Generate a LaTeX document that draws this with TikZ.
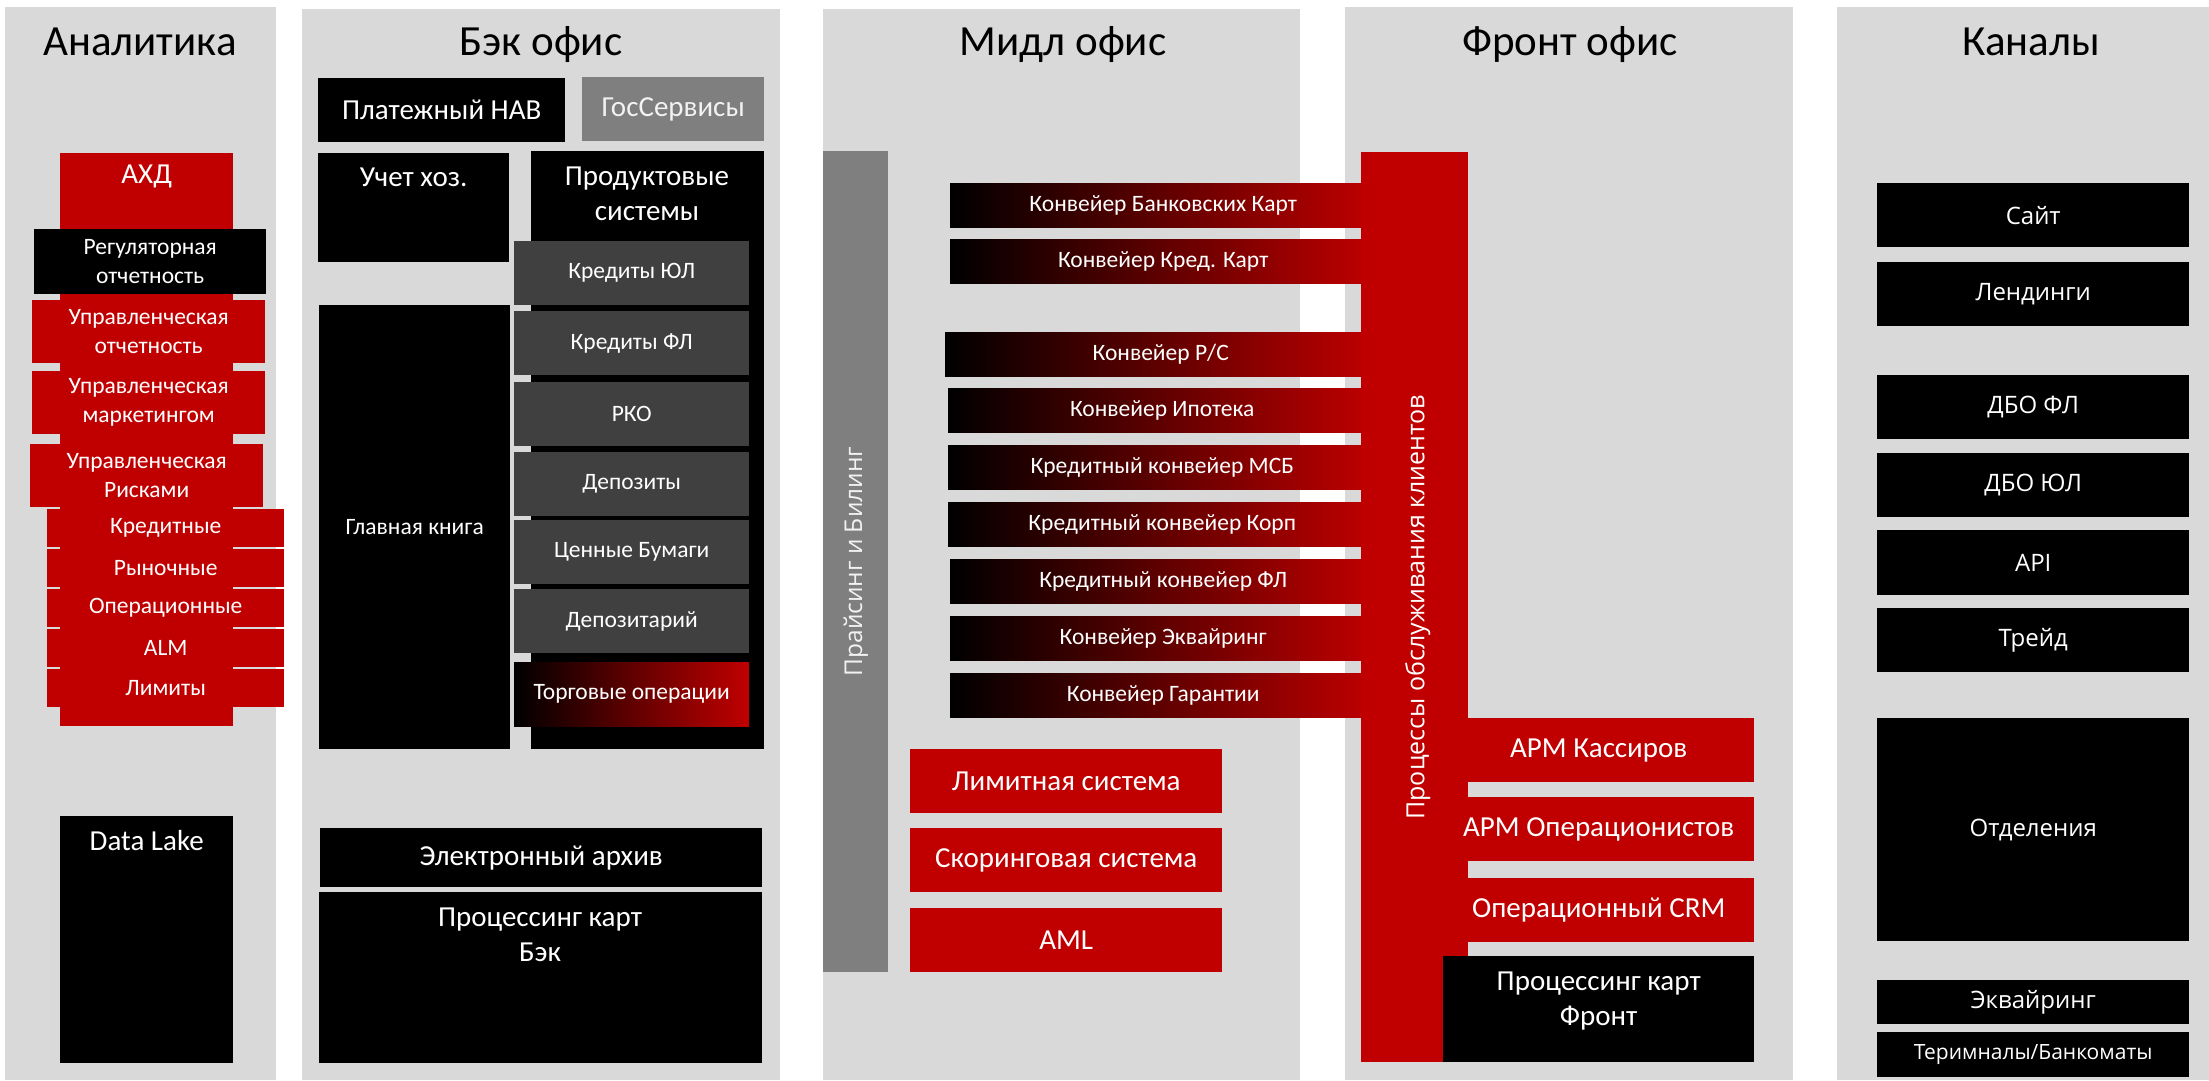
\documentclass[tikz,border=0pt]{standalone}
\usepackage{fontspec}
\setmainfont{Carlito}
\newfontfamily\segoefont{Open Sans}
\usetikzlibrary{positioning}
\definecolor{panelgray}{HTML}{D9D9D9}
\definecolor{bankred}{HTML}{C00000}
\definecolor{prodgray}{HTML}{404040}
\definecolor{bargray}{HTML}{7F7F7F}
\tikzset{
	paneltitle/.style={anchor=base, inner sep=0pt, font=\fontsize{43}{51}\selectfont},
	box/.style={anchor=north west, inner sep=0pt, text=white, align=center},
	blackbox/.style={box, fill=black},
	redbox/.style={box, fill=bankred},
	darkbox/.style={box, fill=prodgray},
	greybox/.style={box, fill=bargray},
	gradbox/.style={box, left color=black, right color=bankred},
	bigtxt/.style={font=\fontsize{29}{35}\selectfont},
	smalltxt/.style={font=\fontsize{23.5}{29}\selectfont},
	chantxt/.style={font=\segoefont\fontsize{24}{30}\selectfont},
	lbl/.style={anchor=base, text=white, inner sep=0pt}
}
\begin{document}
\begin{tikzpicture}[x=1pt, y=-1pt]
	\useasboundingbox (0,0) rectangle (2209,1080);
	\fill[white] (0,0) rectangle (2209,1080);
	% panels
	\fill[panelgray] (5,7) rectangle (276,1080);
	\fill[panelgray] (302,9) rectangle (780,1080);
	\fill[panelgray] (823,9) rectangle (1300,1080);
	\fill[panelgray] (1345,7) rectangle (1793,1080);
	\fill[panelgray] (1837,7) rectangle (2209,1080);
	\node[paneltitle] (tanal) at (140,55) {Аналитика};
	\node[paneltitle] (tback) at (541,55) {Бэк офис};
	\node[paneltitle] (tmid) at (1063,55) {Мидл офис};
	\node[paneltitle] (tfront) at (1570,55) {Фронт офис};
	\node[paneltitle] (tchan) at (2031,55) {Каналы};
	
	% Аналитика
	\node[redbox, minimum width=173, minimum height=573] (ahd) at (60,153) {};
	\node[lbl, bigtxt] (ahdt) at ([yshift=-30pt]ahd.north) {АХД};
	\node[blackbox, smalltxt, minimum width=232, minimum height=65] (regotch) at (34,229) {Регуляторная\\отчетность};
	\foreach \n/\x/\y/\t in {upotch/32/300/отчетность, upmark/32/371/маркетингом, uprisk/30/444/Рисками}
	\node[redbox, smalltxt, minimum width=233, minimum height=63] (\n) at (\x,\y) {Управленческая\\\t};
	\foreach \n/\t [count=\i from 0] in {kred/Кредитные, ryn/Рыночные, oper/Операционные, alm/ALM, lim/Лимиты}
	\node[redbox, smalltxt, minimum width=237, minimum height=38] (\n) at (47,{509+40*\i}) {\t};
	\node[blackbox, minimum width=173, minimum height=247] (lake) at (60,816) {};
	\node[lbl, bigtxt] (laket) at ([yshift=-34pt]lake.north) {Data Lake};
	
	% Бэк офис
	\node[blackbox, bigtxt, minimum width=247, minimum height=64] (nav) at (318,78) {Платежный НАВ};
	\node[greybox, bigtxt, text=white!95!black, minimum width=182, minimum height=64] (gos) at (582,77) {ГосСервисы};
	\node[blackbox, minimum width=191, minimum height=109] (uchet) at (318,153) {};
	\node[lbl, bigtxt] (uchett) at ([yshift=-33pt]uchet.north) {Учет хоз.};
	\node[blackbox, minimum width=233, minimum height=598] (prod) at (531,151) {};
	\node[lbl, bigtxt, anchor=center, align=center] (prodt) at (647,194) {Продуктовые\\системы};
	\node[blackbox, smalltxt, minimum width=191, minimum height=444] (glav) at (319,305) {Главная книга};
	\foreach \n/\y/\t in {krul/241/Кредиты ЮЛ, krfl/311/Кредиты ФЛ, rko/382/РКО, dep/452/Депозиты, cb/520/Ценные Бумаги, depo/589/Депозитарий}
	\node[darkbox, smalltxt, minimum width=235, minimum height=64] (\n) at (514,\y) {\t};
	\node[gradbox, smalltxt, minimum width=235, minimum height=64] (torg) at (514,662) {Торговые операции};
	\node[blackbox, bigtxt, minimum width=442, minimum height=59] (arch) at (320,828) {Электронный архив};
	\node[blackbox, minimum width=443, minimum height=171] (procb) at (319,892) {};
	\node[lbl, bigtxt, anchor=center, align=center] (procbt) at (540,935) {Процессинг карт\\Бэк};
	
	% Мидл офис
	\node[greybox, minimum width=65, minimum height=821] (price) at (823,151) {};
	\node[rotate=90, text=white!95!black, font=\segoefont\fontsize{24.5}{30}\selectfont] (pricet) at (price.center) {Прайсинг и Билинг};
	\foreach \n/\x/\y/\t in {bk/950/183/Конвейер Банковских Карт, kk/950/239/Конвейер Кред. Карт, rs/945/332/Конвейер Р{/}С, ipot/948/388/Конвейер Ипотека, msb/948/445/Кредитный конвейер МСБ, korp/948/502/Кредитный конвейер Корп, kfl/950/559/Кредитный конвейер ФЛ, ekvk/950/616/Конвейер Эквайринг, gar/950/673/Конвейер Гарантии}
	\node[gradbox, smalltxt, minimum width={1376-\x}, minimum height=44] (\n) at (\x,\y) {\t};
	\foreach \n/\y/\t in {limit/749/Лимитная система, scor/828/Скоринговая система, aml/908/AML}
	\node[redbox, bigtxt, minimum width=312, minimum height=64] (\n) at (910,\y) {\t};
	
	% Фронт офис
	\node[redbox, minimum width=107, minimum height=910] (procbar) at (1361,152) {};
	\node[rotate=90, text=white, font=\segoefont\fontsize{25}{30}\selectfont] (procbart) at ([xshift=3pt]procbar.center) {Процессы обслуживания клиентов};
	\foreach \n/\y/\t in {kass/718/АРМ Кассиров, opist/797/АРМ Операционистов, crm/878/Операционный CRM}
	\node[redbox, bigtxt, minimum width=311, minimum height=64] (\n) at (1443,\y) {\t};
	\node[blackbox, minimum width=311, minimum height=106] (procf) at (1443,956) {};
	\node[lbl, bigtxt, anchor=center, align=center] (procft) at ([yshift=8pt]procf.center) {Процессинг карт\\Фронт};
	
	% Каналы
	\foreach \n/\y/\h/\t in {sajt/183/64/Сайт, lend/262/64/Лендинги, dbofl/375/64/ДБО ФЛ, dboul/453/64/ДБО ЮЛ, api/530/65/API, trejd/608/64/Трейд, otd/718/223/Отделения, ekv/980/44/Эквайринг}
	\node[blackbox, chantxt, minimum width=312, minimum height=\h] (\n) at (1877,\y) {\t};
	\node[blackbox, font=\segoefont\fontsize{21}{26}\selectfont, minimum width=312, minimum height=45] (term) at (1877,1032) {Теримналы/Банкоматы};
\end{tikzpicture}
\end{document}
